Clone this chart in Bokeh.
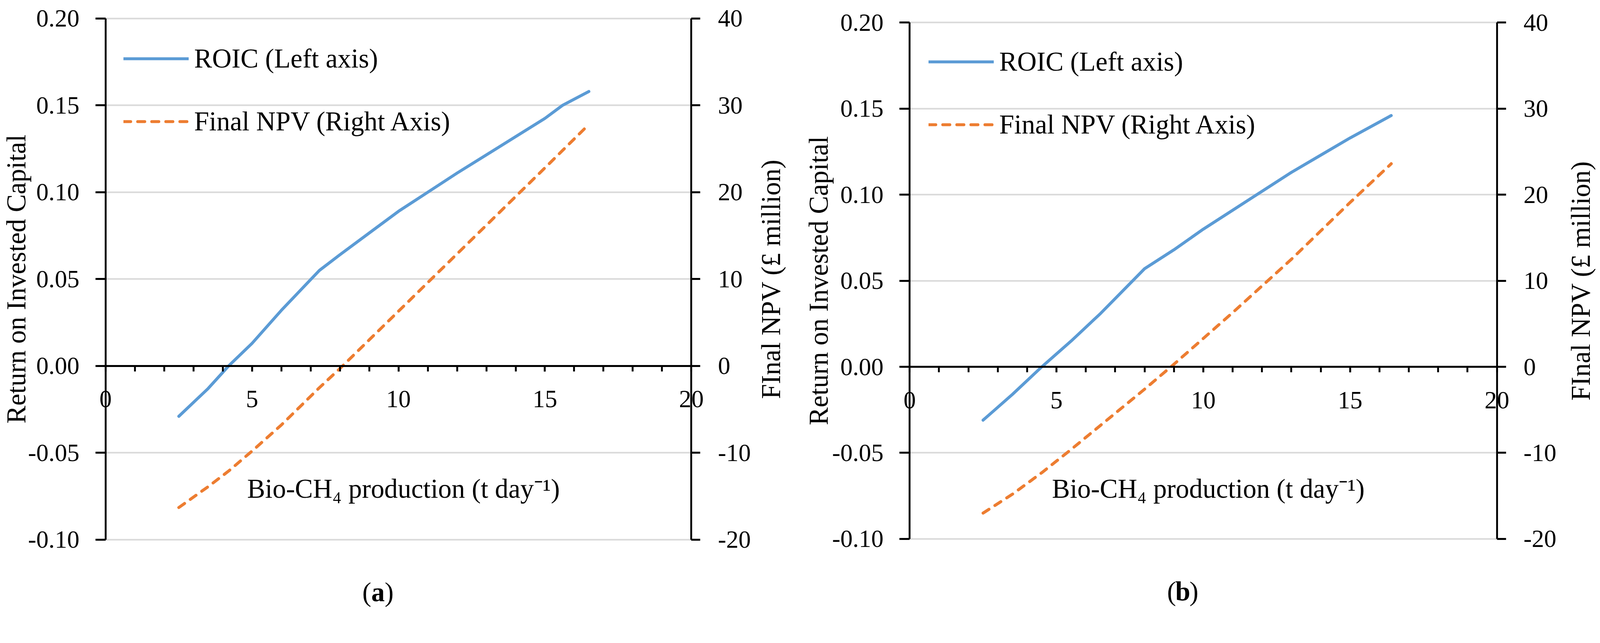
import math
from bokeh.plotting import figure
from bokeh.models import (Range1d, LinearAxis, FixedTicker, NumeralTickFormatter,
                          Legend, LegendItem, Label)
from bokeh.layouts import row
from bokeh.embed import file_html
from bokeh.resources import INLINE

# ---------------- data ----------------
# panel (a)
x_a = [2.5, 3.5, 4.2, 5.0, 6.0, 7.3, 8.0, 9.0, 10.0, 11.0, 12.0, 13.0, 14.0, 15.0, 15.6, 16.5]
roic_a = [-0.029, -0.013, 0.000, 0.013, 0.032, 0.055, 0.064, 0.0765, 0.089, 0.100, 0.111,
          0.1215, 0.132, 0.1425, 0.150, 0.158]
npv_a = [-16.3, -13.9, -12.1, -9.8, -6.8, -2.5, -0.3, 3.0, 6.3, 9.6, 12.9, 16.2, 19.5,
         22.8, 24.8, 27.8]
# panel (b)
x_b = [2.5, 3.5, 4.5, 5.5, 6.5, 8.0, 9.0, 10.0, 11.0, 12.0, 13.0, 14.0, 15.0, 16.4]
roic_b = [-0.031, -0.016, 0.000, 0.015, 0.031, 0.057, 0.068, 0.080, 0.091, 0.102, 0.113,
          0.123, 0.133, 0.146]
npv_b = [-17.0, -14.8, -12.3, -9.6, -6.8, -2.6, 0.3, 3.3, 6.3, 9.4, 12.5, 15.8, 19.1, 23.6]

x_ticks = [0, 5, 10, 15, 20]
x_minor_ticks = list(range(0, 21))
roic_ticks = [-0.10, -0.05, 0.00, 0.05, 0.10, 0.15, 0.20]
npv_ticks = [-20, -10, 0, 10, 20, 30, 40]

legend_labels = ["ROIC (Left axis)", "Final NPV (Right Axis)"]
left_title = "Return on Invested Capital"
right_title = "FInal NPV (£ million)"
x_title = "Bio-CH\u2084 production (t day\u207b\u00b9)"
panel_tags = ["a", "b"]

FONT = "Liberation Serif"
BLUE = "#5B9BD5"
ORANGE = "#ED7D31"
X_LO, X_HI = 0, 20
R_LO, R_HI = -0.10, 0.20
N_LO, N_HI = -20, 40

# page geometry is laid out in "picture" pixels and scaled to fit the captured area
Z = 1 / 1.045


def z(v):
    return v * Z


def px(v):
    return "%.1fpx" % z(v)


TICK_FS = px(66)
TEXT_FS = px(72)


def make_panel(xs, roic, npv, tag, W, H, fx0, fx1, fy0, fy1,
               leg_x, leg_row1, ltitle_off, rtitle_off, cap_x):
    W, H = int(round(z(W))), int(round(z(H)))
    fx0, fx1, fy0, fy1 = z(fx0), z(fx1), z(fy0), z(fy1)
    sx = (fx1 - fx0) / (X_HI - X_LO)
    sy = (fy1 - fy0) / (R_HI - R_LO)
    sn = (fy1 - fy0) / (N_HI - N_LO)
    xr = Range1d(X_LO - fx0 / sx, X_HI + (W - fx1) / sx)
    yr = Range1d(R_LO - (H - fy1) / sy, R_HI + fy0 / sy)
    nr = Range1d(N_LO - (H - fy1) / sn, N_HI + fy0 / sn)

    p = figure(width=W, height=H, x_range=xr, y_range=yr,
               output_backend="svg", toolbar_location=None, min_border=0)
    p.extra_y_ranges = {"npv": nr}
    p.outline_line_color = None
    p.background_fill_color = "white"
    p.border_fill_color = "white"

    # horizontal grid, only between the two vertical axes
    p.xgrid.visible = False
    p.ygrid.ticker = FixedTicker(ticks=roic_ticks)
    p.ygrid.grid_line_color = "#d9d9d9"
    p.ygrid.grid_line_width = z(4)
    try:
        p.ygrid.cross_bounds = (X_LO, X_HI)
    except Exception:
        p.ygrid.visible = False
        p.segment(x0=X_LO, x1=X_HI, y0=roic_ticks, y1=roic_ticks,
                  line_color="#d9d9d9", line_width=z(4), level="underlay")

    # left axis at x = 0
    ya = p.yaxis[0]
    ya.fixed_location = X_LO
    ya.bounds = (R_LO, R_HI)
    ya.ticker = FixedTicker(ticks=roic_ticks)
    ya.formatter = NumeralTickFormatter(format="0.00")
    ya.axis_line_width = z(5)
    ya.axis_line_color = "black"
    ya.major_tick_line_width = z(5)
    ya.major_tick_out = int(round(z(27)))
    ya.major_tick_in = 0
    ya.minor_tick_line_color = None
    ya.major_label_standoff = int(round(z(43)))
    ya.major_label_text_font = FONT
    ya.major_label_text_font_size = TICK_FS
    ya.major_label_text_color = "black"

    # right axis at x = 20
    ra = LinearAxis(y_range_name="npv", ticker=FixedTicker(ticks=npv_ticks),
                    formatter=NumeralTickFormatter(format="0"))
    ra.fixed_location = X_HI
    ra.bounds = (N_LO, N_HI)
    ra.axis_line_width = z(5)
    ra.axis_line_color = "black"
    ra.major_tick_line_width = z(5)
    ra.major_tick_out = int(round(z(24)))
    ra.major_tick_in = 0
    ra.minor_tick_line_color = None
    ra.major_label_standoff = int(round(z(47)))
    ra.major_label_text_font = FONT
    ra.major_label_text_font_size = TICK_FS
    ra.major_label_text_color = "black"
    p.add_layout(ra, "right")

    # x axis crossing at y = 0
    xa = p.xaxis[0]
    xa.fixed_location = 0
    xa.bounds = (X_LO, X_HI)
    xa.ticker = FixedTicker(ticks=x_ticks, minor_ticks=x_minor_ticks)
    xa.formatter = NumeralTickFormatter(format="0")
    xa.axis_line_width = z(5)
    xa.axis_line_color = "black"
    xa.major_tick_line_width = z(5)
    xa.major_tick_out = int(round(z(15)))
    xa.major_tick_in = 0
    xa.minor_tick_line_width = z(5)
    xa.minor_tick_line_color = "black"
    xa.minor_tick_out = int(round(z(15)))
    xa.minor_tick_in = 0
    xa.major_label_standoff = int(round(z(52)))
    xa.major_label_text_font = FONT
    xa.major_label_text_font_size = TICK_FS
    xa.major_label_text_color = "black"

    # series
    r1 = p.line(xs, roic, line_color=BLUE, line_width=z(8), line_join="round",
                line_cap="round")
    r2 = p.line(xs, npv, y_range_name="npv", line_color=ORANGE, line_width=z(8),
                line_dash="18 18", line_cap="round", line_join="round")

    # legend (location measured from the frame's bottom-left corner)
    item_h, gap = z(100), z(68)
    leg_h = 2 * item_h + gap
    leg_top = z(leg_row1) - item_h / 2
    legend = Legend(items=[LegendItem(label=legend_labels[0], renderers=[r1]),
                           LegendItem(label=legend_labels[1], renderers=[r2])],
                    location=(int(round(fx0 + z(leg_x))), int(round(H - leg_top - leg_h))),
                    orientation="vertical",
                    glyph_width=int(round(z(175))), glyph_height=int(round(item_h)),
                    label_height=int(round(item_h)),
                    spacing=int(round(gap)), padding=0, margin=0,
                    label_standoff=int(round(z(15))),
                    border_line_color=None, background_fill_alpha=0,
                    label_text_font=FONT, label_text_font_size=TEXT_FS,
                    label_text_color="black")
    p.add_layout(legend, "center")

    ymid = (R_LO + R_HI) / 2
    # axis titles
    p.add_layout(Label(x=X_LO, y=ymid, x_offset=z(ltitle_off), text=left_title,
                       angle=math.pi / 2, text_align="center", text_baseline="middle",
                       text_font=FONT, text_font_size=TEXT_FS, text_color="black"))
    p.add_layout(Label(x=X_HI, y=ymid, x_offset=z(rtitle_off), text=right_title,
                       angle=math.pi / 2, text_align="center", text_baseline="middle",
                       text_font=FONT, text_font_size=TEXT_FS, text_color="black"))
    p.add_layout(Label(x=10.17, y=-0.0708, text=x_title,
                       text_align="center", text_baseline="middle",
                       text_font=FONT, text_font_size=TEXT_FS, text_color="black"))

    # caption "(a)" / "(b)"
    for txt, off, align, style in (("(", -18, "right", "normal"), (tag, 0, "center", "bold"),
                                   (")", 18, "left", "normal")):
        p.add_layout(Label(x=cap_x, y=R_LO, y_offset=z(-141), x_offset=z(off), text=txt,
                           text_align=align, text_baseline="middle", text_font_style=style,
                           text_font=FONT, text_font_size=TEXT_FS, text_color="black"))
    return p


# panel geometry in picture pixels: width, height, x=0 col, x=20 col, top row, bottom row,
# legend offset from the left axis, first legend row centre
pa = make_panel(x_a, roic_a, npv_a, panel_tags[0], 2138, 1640, 282, 1849, 49, 1444,
                48, 157, -239, 213, 9.3)
pb = make_panel(x_b, roic_b, npv_b, panel_tags[1], 2131, 1640, 295, 1866, 60, 1442,
                51, 165, -243, 224, 9.3)

layout = row(pa, pb)
open("out.html", "w").write(file_html(layout, INLINE))
